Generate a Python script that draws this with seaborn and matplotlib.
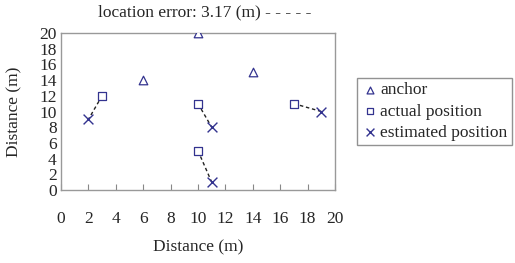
import numpy as np
import pandas as pd
import matplotlib
matplotlib.use("Agg")
import matplotlib.pyplot as plt
import seaborn as sns

# data
anchor_x = [6, 10, 14]
anchor_y = [14, 20, 15]
actual_x = [3, 10, 10, 17]
actual_y = [12, 11, 5, 11]
est_x = [2, 11, 11, 19]
est_y = [9, 8, 1, 10]
error_label = "location error: 3.17 (m) - - - - -"

sns.set_style("white")
plt.rcParams['font.family'] = ['Liberation Serif', 'DejaVu Serif']

navy = "#33338f"
fs = 12.5

df = pd.concat([
    pd.DataFrame({"x": anchor_x, "y": anchor_y, "kind": "anchor"}),
    pd.DataFrame({"x": actual_x, "y": actual_y, "kind": "actual position"}),
    pd.DataFrame({"x": est_x, "y": est_y, "kind": "estimated position"}),
])

fig = plt.figure(figsize=(5.15, 2.63), dpi=100)
ax = fig.add_axes([61 / 515, 1 - 190 / 263, 274 / 515, 157 / 263])

# dashed error lines between actual and estimated
for ax_, ay_, ex_, ey_ in zip(actual_x, actual_y, est_x, est_y):
    ax.plot([ax_, ex_], [ay_, ey_], ls=(0, (2.5, 2)), color="#222222", lw=1, zorder=1)

markers = {"anchor": "^", "actual position": "s", "estimated position": "x"}
for kind, m in markers.items():
    sub = df[df.kind == kind]
    if m == "x":
        sns.scatterplot(data=sub, x="x", y="y", marker="x", s=50, color=navy,
                        linewidth=1.0, ax=ax, label=kind, zorder=3)
    else:
        sns.scatterplot(data=sub, x="x", y="y", marker=m, s=38, facecolor="white",
                        edgecolor=navy, linewidth=0.9, ax=ax, label=kind, zorder=3)

ax.set_xlim(0, 20)
ax.set_ylim(0, 20)
ax.set_xticks(np.arange(0, 21, 2))
ax.set_yticks(np.arange(0, 21, 2))
ax.tick_params(axis="x", direction="in", length=4, pad=15, labelsize=fs, color="#888888")
ax.tick_params(axis="y", direction="in", length=0, pad=3, labelsize=fs)
ax.tick_params(bottom=True, left=False)
for sp in ax.spines.values():
    sp.set_color("#999999")
    sp.set_linewidth(1)
ax.set_xlabel("Distance (m)", fontsize=fs, labelpad=9)
ax.set_ylabel("Distance (m)", fontsize=fs, labelpad=12)

fig.text(205 / 515, 1 - 12 / 263, error_label, ha="center", va="center", fontsize=fs)

leg = ax.legend(loc="center left", bbox_to_anchor=(1.08, 0.5), frameon=True,
                fancybox=False, edgecolor="#777777", fontsize=fs, markerscale=0.8,
                handletextpad=0.1, borderpad=0.25, labelspacing=0.3, handlelength=1.0,
                borderaxespad=0)
leg.get_frame().set_linewidth(1)

fig.savefig("out.png", dpi=100)
